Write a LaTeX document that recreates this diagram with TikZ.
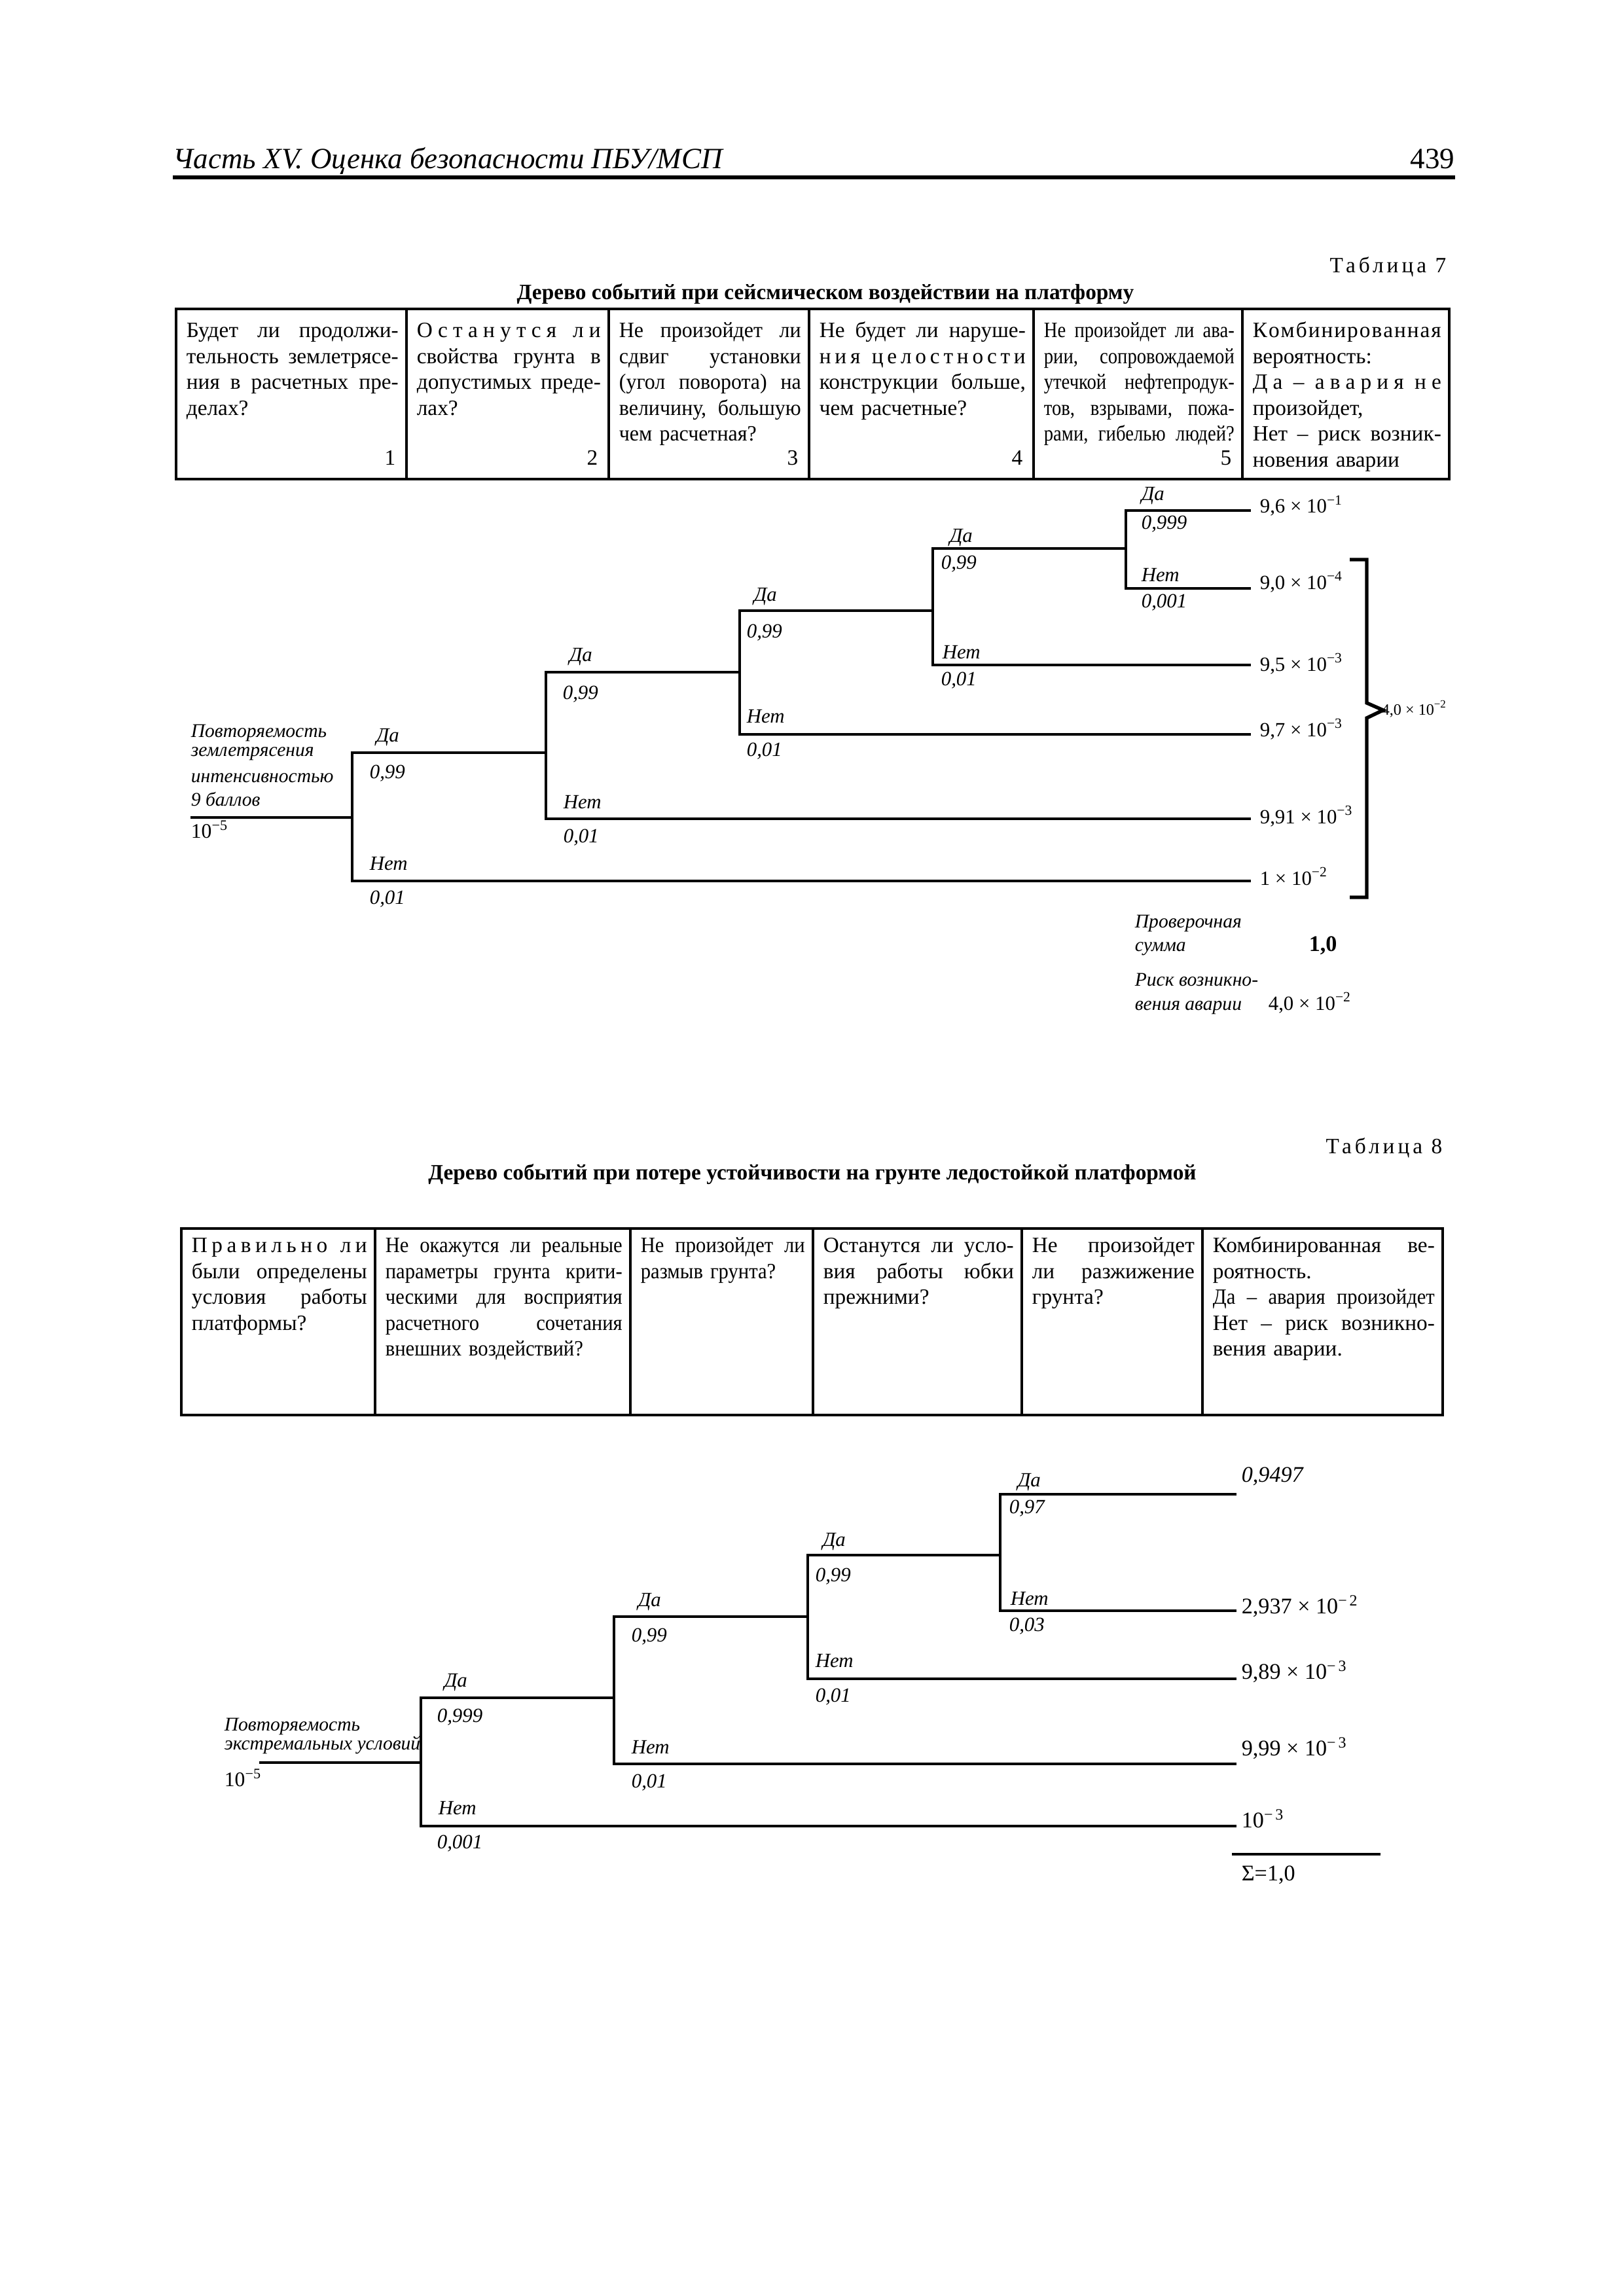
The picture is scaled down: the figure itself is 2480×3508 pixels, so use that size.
\documentclass[tikz,border=0pt]{standalone}
\usepackage{fontspec}
\setmainfont{Liberation Serif}
\newfontfamily\cndfont[FakeStretch=0.86]{Liberation Serif}
\newfontfamily\semifont[FakeStretch=0.92]{Liberation Serif}
\newfontfamily\slightfont[FakeStretch=0.96]{Liberation Serif}
\setlength{\parindent}{0pt}
\newcommand\hf{\hfil}
\newcommand\JL[1]{\makebox[\hsize][s]{\frenchspacing\spaceskip=0.25em plus 1fil minus 0.06em\relax #1}}
\newcommand\tp[1]{\textsuperscript{#1}}
\begin{document}
\begin{tikzpicture}[x=0.24pt,y=-0.24pt,
  br/.style={line width=0.9pt},
  tbl/.style={line width=0.9pt},
  cell/.style={font={\fontsize{8.0}{9.5}\selectfont}, inner sep=0pt, anchor=north west, align=left},
  num/.style={font={\fontsize{8.0}{9.5}\selectfont}, inner sep=0pt, anchor=base east},
  lbl/.style={font={\fontsize{7.4}{9}\selectfont\itshape}, inner sep=0pt, anchor=base west},
  lft/.style={font={\fontsize{7.1}{9}\selectfont\itshape}, inner sep=0pt, anchor=base west},
  leafA/.style={font={\fontsize{7.4}{8}\selectfont}, inner sep=0pt, anchor=base west},
  leafB/.style={font={\fontsize{8.2}{9}\selectfont}, inner sep=0pt, anchor=base west},
  ttl/.style={font={\fontsize{8.0}{9.5}\selectfont\bfseries}, inner sep=0pt, anchor=base},
  tab/.style={font={\fontsize{8.0}{9.5}\selectfont\addfontfeature{LetterSpace=15}}, inner sep=0pt, anchor=base east}
]
\useasboundingbox (0,0) rectangle (2480,3508);
\fill[white] (0,0) rectangle (2480,3508);

% ---------- page header ----------
\node[font={\fontsize{10.8}{12}\selectfont\itshape}, inner sep=0pt, anchor=base west] (hdr) at (264,258) {Часть XV. Оценка безопасности ПБУ/МСП};
\node[font={\fontsize{10.8}{12}\selectfont}, inner sep=0pt, anchor=base east] (page) at (2223,258) {439};
\draw[line width=1.5pt] (264,271) -- (2223,271);

% ---------- Table 7 ----------
\node[tab] (tab7) at (2210,417) {Таблица 7};
\node[ttl] (title7) at (1261,458) {Дерево событий при сейсмическом воздействии на платформу};
\draw[tbl] (269,472) rectangle (2214,732);
\foreach \x in {621,930,1236,1579,1898} \draw[tbl] (\x,472) -- (\x,732);

\node[cell, text width=77.76pt] (c71) at (284,487) {\strut\JL{Будет ли продолжи-}\\\JL{тельность землетрясе-}\\\JL{ния в расчетных пре-}\\делах?};
\node[cell, text width=67.44pt] (c72) at (636,487) {\strut\JL{О\hf с\hf т\hf а\hf н\hf у\hf т\hf с\hf я\hf\hf\hf л\hf и}\\\JL{свойства грунта в}\\\JL{допустимых преде-}\\лах?};
\node[cell, text width=66.72pt] (c73) at (945,487) {\slightfont\strut\JL{Не произойдет ли}\\\JL{сдвиг установки}\\\JL{(угол поворота) на}\\\JL{величину, большую}\\чем расчетная?};
\node[cell, text width=75.6pt] (c74) at (1251,487) {\strut\JL{Не будет ли наруше-}\\\JL{н\hf и\hf я\hf\hf\hf ц\hf е\hf л\hf о\hf с\hf т\hf н\hf о\hf с\hf т\hf и}\\\JL{конструкции больше,}\\чем расчетные?};
\node[cell, text width=69.84pt] (c75) at (1594,487) {\cndfont\strut\JL{Не произойдет ли ава-}\\\JL{рии, сопровождаемой}\\\JL{утечкой нефтепродук-}\\\JL{тов, взрывами, пожа-}\\\JL{рами, гибелью людей?}};
\node[cell, text width=69.12pt] (c76) at (1913,487) {\strut\JL{К\hf о\hf м\hf б\hf и\hf н\hf и\hf р\hf о\hf в\hf а\hf н\hf н\hf а\hf я}\\вероятность:\\\JL{Д\hf а\hf\hf –\hf\hf а\hf в\hf а\hf р\hf и\hf я\hf\hf н\hf е}\\произойдет,\\\JL{Нет – риск возник-}\\новения аварии};
\node[num] (n1) at (605,711) {1};
\node[num] (n2) at (914,711) {2};
\node[num] (n3) at (1220,711) {3};
\node[num] (n4) at (1563,711) {4};
\node[num] (n5) at (1882,711) {5};

% ---------- Tree 7 ----------
\coordinate (t7s) at (291,1249);
\coordinate (t7a) at (538,1249);
\coordinate (t7ay) at (538,1150);
\coordinate (t7an) at (538,1346);
\coordinate (t7b) at (834,1150);
\coordinate (t7by) at (834,1027);
\coordinate (t7bn) at (834,1251);
\coordinate (t7c) at (1130,1027);
\coordinate (t7cy) at (1130,933);
\coordinate (t7cn) at (1130,1122);
\coordinate (t7d) at (1425,933);
\coordinate (t7dy) at (1425,838);
\coordinate (t7dn) at (1425,1016);
\coordinate (t7e) at (1720,838);
\coordinate (t7ey) at (1720,780);
\coordinate (t7en) at (1720,899);
\coordinate (t7l1) at (1911,780);
\coordinate (t7l2) at (1911,899);
\coordinate (t7l3) at (1911,1016);
\coordinate (t7l4) at (1911,1122);
\coordinate (t7l5) at (1911,1251);
\coordinate (t7l6) at (1911,1346);

\draw[br] (t7s) -- (t7a);
\draw[br] (t7b) -- (t7ay) -- (t7an) -- (t7l6);
\draw[br] (t7c) -- (t7by) -- (t7bn) -- (t7l5);
\draw[br] (t7d) -- (t7cy) -- (t7cn) -- (t7l4);
\draw[br] (t7e) -- (t7dy) -- (t7dn) -- (t7l3);
\draw[br] (t7l1) -- (t7ey) -- (t7en) -- (t7l2);

\node[lft] (p7a) at (291,1126) {Повторяемость};
\node[lft] (p7b) at (291,1155) {землетрясения};
\node[lft] (p7c) at (291,1195) {интенсивностью};
\node[lft] (p7d) at (291,1231) {9 баллов};
\node[leafA, font={\fontsize{7.6}{9}\selectfont}] (p7e) at (291,1280) {10\tp{−5}};

\node[lbl] (a7y) at (574,1133) {Да};
\node[lbl] (a7p) at (564,1189) {0,99};
\node[lbl] (a7n) at (564,1329) {Нет};
\node[lbl] (a7q) at (564,1381) {0,01};
\node[lbl] (b7y) at (869,1010) {Да};
\node[lbl] (b7p) at (859,1068) {0,99};
\node[lbl] (b7n) at (860,1235) {Нет};
\node[lbl] (b7q) at (860,1287) {0,01};
\node[lbl] (c7y) at (1151,918) {Да};
\node[lbl] (c7p) at (1140,974) {0,99};
\node[lbl] (c7n) at (1140,1104) {Нет};
\node[lbl] (c7q) at (1140,1155) {0,01};
\node[lbl] (d7y) at (1450,829) {Да};
\node[lbl] (d7p) at (1437,870) {0,99};
\node[lbl] (d7n) at (1439,1006) {Нет};
\node[lbl] (d7q) at (1437,1047) {0,01};
\node[lbl] (e7y) at (1743,765) {Да};
\node[lbl] (e7p) at (1743,809) {0,999};
\node[lbl] (e7n) at (1743,889) {Нет};
\node[lbl] (e7q) at (1743,929) {0,001};

\node[leafA] (v71) at (1924,784) {9,6 × 10\tp{−1}};
\node[leafA] (v72) at (1924,900) {9,0 × 10\tp{−4}};
\node[leafA] (v73) at (1924,1025) {9,5 × 10\tp{−3}};
\node[leafA] (v74) at (1924,1125) {9,7 × 10\tp{−3}};
\node[leafA] (v75) at (1924,1258) {9,91 × 10\tp{−3}};
\node[leafA] (v76) at (1924,1352) {1 × 10\tp{−2}};

\draw[line width=1.3pt] (2062,855) -- (2088,855) -- (2088,1074) -- (2113,1085) -- (2088,1097) -- (2088,1371) -- (2062,1371);
\node[leafA, font={\fontsize{5.8}{6}\selectfont}] (brk) at (2110,1092) {4,0 × 10\tp{−2}};

\node[lft] (chk1) at (1733,1417) {Проверочная};
\node[lft] (chk2) at (1733,1453) {сумма};
\node[leafA, font={\fontsize{8.2}{9}\selectfont\bfseries}] (chk3) at (1999,1453) {1,0};
\node[lft] (rsk1) at (1733,1506) {Риск возникно-};
\node[lft] (rsk2) at (1733,1543) {вения аварии};
\node[leafA] (rsk3) at (1937,1543) {4,0 × 10\tp{−2}};

% ---------- Table 8 ----------
\node[tab] (tab8) at (2204,1762) {Таблица 8};
\node[ttl] (title8) at (1241,1802) {Дерево событий при потере устойчивости на грунте ледостойкой платформой};
\draw[tbl] (277,1877) rectangle (2204,2162);
\foreach \x in {573,963,1242,1561,1837} \draw[tbl] (\x,1877) -- (\x,2162);

\node[cell, text width=64.32pt] (c81) at (292,1885) {\strut\JL{П\hf р\hf а\hf в\hf и\hf л\hf ь\hf н\hf о\hf\hf\hf л\hf и}\\\JL{были определены}\\\JL{условия работы}\\платформы?};
\node[cell, text width=86.88pt] (c82) at (588,1885) {\semifont\strut\JL{Не окажутся ли реальные}\\\JL{параметры грунта крити-}\\\JL{ческими для восприятия}\\\JL{расчетного сочетания}\\внешних воздействий?};
\node[cell, text width=60.24pt] (c83) at (978,1885) {\semifont\strut\JL{Не произойдет ли}\\размыв грунта?};
\node[cell, text width=69.84pt] (c84) at (1257,1885) {\strut\JL{Останутся ли усло-}\\\JL{вия работы юбки}\\прежними?};
\node[cell, text width=59.52pt] (c85) at (1576,1885) {\strut\JL{Не произойдет}\\\JL{ли разжижение}\\грунта?};
\node[cell, text width=81.36pt] (c86) at (1852,1885) {\strut\JL{Комбинированная ве-}\\роятность.\\\JL{\semifont Да – авария произойдет}\\\JL{Нет – риск возникно-}\\вения аварии.};

% ---------- Tree 8 ----------
\coordinate (t8s) at (396,2693);
\coordinate (t8a) at (643,2693);
\coordinate (t8ay) at (643,2594);
\coordinate (t8an) at (643,2790);
\coordinate (t8b) at (938,2594);
\coordinate (t8by) at (938,2470);
\coordinate (t8bn) at (938,2695);
\coordinate (t8c) at (1234,2470);
\coordinate (t8cy) at (1234,2376);
\coordinate (t8cn) at (1234,2565);
\coordinate (t8d) at (1528,2376);
\coordinate (t8dy) at (1528,2283);
\coordinate (t8dn) at (1528,2461);
\coordinate (t8l1) at (1889,2283);
\coordinate (t8l2) at (1889,2461);
\coordinate (t8l3) at (1889,2565);
\coordinate (t8l4) at (1889,2695);
\coordinate (t8l5) at (1889,2790);

\draw[br] (t8s) -- (t8a);
\draw[br] (t8b) -- (t8ay) -- (t8an) -- (t8l5);
\draw[br] (t8c) -- (t8by) -- (t8bn) -- (t8l4);
\draw[br] (t8d) -- (t8cy) -- (t8cn) -- (t8l3);
\draw[br] (t8l1) -- (t8dy) -- (t8dn) -- (t8l2);

\node[lft] (p8a) at (342,2644) {Повторяемость};
\node[lft] (p8b) at (342,2673) {экстремальных условий};
\node[leafA, font={\fontsize{7.6}{9}\selectfont}] (p8c) at (342,2729) {10\tp{−5}};

\node[lbl] (a8y) at (678,2577) {Да};
\node[lbl] (a8p) at (667,2631) {0,999};
\node[lbl] (a8n) at (669,2772) {Нет};
\node[lbl] (a8q) at (667,2824) {0,001};
\node[lbl] (b8y) at (974,2454) {Да};
\node[lbl] (b8p) at (964,2508) {0,99};
\node[lbl] (b8n) at (964,2679) {Нет};
\node[lbl] (b8q) at (964,2731) {0,01};
\node[lbl] (c8y) at (1256,2362) {Да};
\node[lbl] (c8p) at (1245,2416) {0,99};
\node[lbl] (c8n) at (1245,2547) {Нет};
\node[lbl] (c8q) at (1245,2600) {0,01};
\node[lbl] (d8y) at (1554,2271) {Да};
\node[lbl] (d8p) at (1541,2312) {0,97};
\node[lbl] (d8n) at (1543,2452) {Нет};
\node[lbl] (d8q) at (1541,2492) {0,03};

\node[leafB, font={\fontsize{8.2}{9}\selectfont\itshape}] (v81) at (1896,2264) {0,9497};
\node[leafB] (v82) at (1896,2465) {2,937 × 10\tp{−\,2}};
\node[leafB] (v83) at (1896,2565) {9,89 × 10\tp{−\,3}};
\node[leafB] (v84) at (1896,2682) {9,99 × 10\tp{−\,3}};
\node[leafB] (v85) at (1896,2792) {10\tp{−\,3}};
\draw[line width=1pt] (1882,2833) -- (2109,2833);
\node[leafB] (sum8) at (1896,2873) {Σ=1,0};
\end{tikzpicture}
\end{document}
